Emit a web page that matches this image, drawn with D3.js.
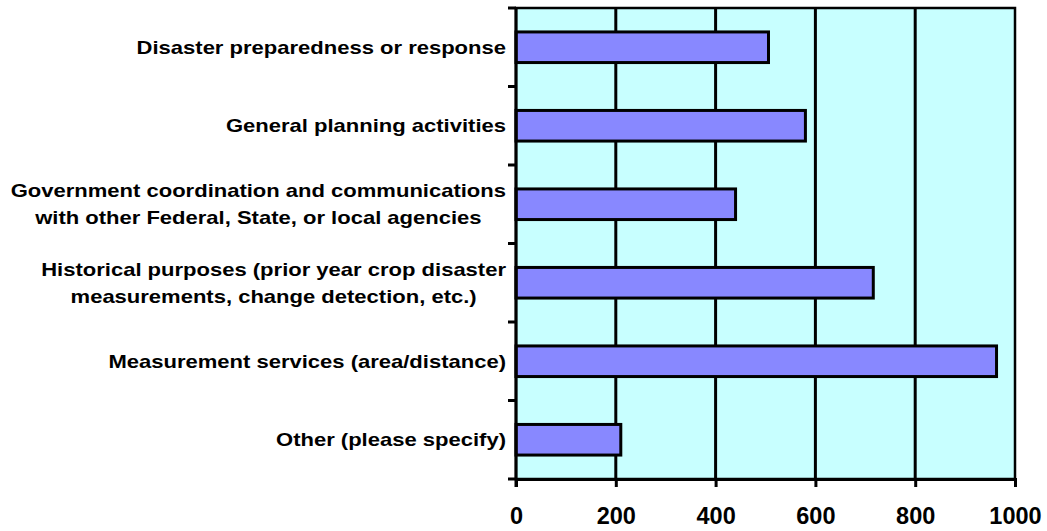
<!DOCTYPE html>
<html>
<head>
<meta charset="utf-8">
<script src="https://cdn.jsdelivr.net/npm/d3@7"></script>
<style>
  body { margin: 0; background: #ffffff; }
  text { font-family: 'Liberation Sans', Arial, sans-serif; font-weight: bold; fill: #000; }
</style>
</head>
<body>
<div id="graph"></div>
<script>
// The data...
var categories = [
    [ 'Disaster preparedness or response' ],
    [ 'General planning activities' ],
    [ 'Government coordination and communications', 'with other Federal, State, or local agencies' ],
    [ 'Historical purposes (prior year crop disaster', 'measurements, change detection, etc.)' ],
    [ 'Measurement services (area/distance)' ],
    [ 'Other (please specify)' ]
];
var values     = [ 506, 580, 440, 716, 963, 210 ];
var xTicks     = [ 0, 200, 400, 600, 800, 1000 ];

var margin = { top: 8, right: 32, bottom: 52, left: 516 };
var width  = 1047 - margin.left - margin.right;
var height = 531 - margin.top - margin.bottom;

// the source font renders wider than Liberation Sans
var stretch = 1.19;

var svg = d3.select('#graph').append('svg')
            .attr('width', 1047)
            .attr('height', 531)
            .append('g')
            .attr('transform', 'translate(' + margin.left + ',' + margin.top + ')');

var xScale = d3.scaleLinear()
               .domain([ 0, 1000 ])
               .range([ 0, width ]);

var yScale = d3.scaleBand()
               .domain(d3.range(categories.length))
               .range([ 0, height ])
               .paddingInner(0.61)
               .paddingOuter(0.305);

// plot background
svg.append('rect')
   .attr('x', 0).attr('y', 0)
   .attr('width', width).attr('height', height)
   .attr('fill', '#c8ffff');

// vertical gridlines
svg.selectAll('.grid')
   .data(xTicks.slice(1, -1))
   .enter()
   .append('line')
   .attr('x1', function(d) { return xScale(d); })
   .attr('x2', function(d) { return xScale(d); })
   .attr('y1', 0).attr('y2', height)
   .attr('stroke', '#000').attr('stroke-width', 3);

// bars
svg.selectAll('.bar')
   .data(values)
   .enter()
   .append('rect')
   .attr('x', xScale(0))
   .attr('y', function(d, i) { return yScale(i); })
   .attr('width', function(d) { return xScale(d) - xScale(0); })
   .attr('height', yScale.bandwidth())
   .attr('fill', '#8888ff')
   .attr('stroke', '#000')
   .attr('stroke-width', 3);

// plot border
svg.append('rect')
   .attr('x', 0).attr('y', 0)
   .attr('width', width).attr('height', height)
   .attr('fill', 'none')
   .attr('stroke', '#000').attr('stroke-width', 2.5);

// x axis
var xAxis = d3.axisBottom(xScale)
              .tickValues(xTicks)
              .tickSize(8)
              .tickPadding(20)
              .tickFormat(d3.format('d'));

var gx = svg.append('g')
            .attr('transform', 'translate(0,' + height + ')')
            .call(xAxis);
gx.select('.domain').attr('stroke-width', 3);
gx.selectAll('.tick line').attr('stroke-width', 3);
gx.selectAll('text')
  .attr('font-size', '23.5px')
  .attr('fill', '#000');

// y axis ticks at category boundaries
var step = yScale.step();
svg.selectAll('.ytick')
   .data(d3.range(categories.length + 1))
   .enter()
   .append('line')
   .attr('x1', -8).attr('x2', 0)
   .attr('y1', function(i) { return i * step; })
   .attr('y2', function(i) { return i * step; })
   .attr('stroke', '#000').attr('stroke-width', 3);

svg.append('line')
   .attr('x1', 0).attr('x2', 0)
   .attr('y1', 0).attr('y2', height + 8)
   .attr('stroke', '#000').attr('stroke-width', 3);

// category labels, lines centred, block right aligned
var labelRight = -10;
var lineGap = 27;
categories.forEach(function(lines, i)
{
    var cy = yScale(i) + yScale.bandwidth() / 2;
    var g = svg.append('g')
               .attr('transform', 'translate(' + labelRight + ',0) scale(' + stretch + ',1)');
    var texts = lines.map(function(line, j)
    {
        return g.append('text')
                .attr('font-size', '18.5px')
                .attr('dy', '0.35em')
                .attr('y', cy + (j - (lines.length - 1) / 2) * lineGap)
                .attr('text-anchor', 'middle')
                .text(line);
    });
    var maxW = d3.max(texts, function(t) { return t.node().getComputedTextLength(); });
    texts.forEach(function(t) { t.attr('x', -maxW / 2); });
});
</script>
</body>
</html>
